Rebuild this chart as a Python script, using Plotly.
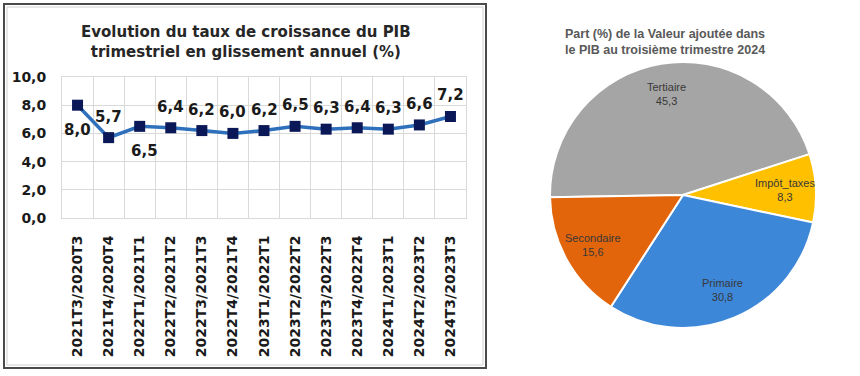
import math
import plotly.graph_objects as go

# ---- data ----
quarters = ["2021T3/2020T3", "2021T4/2020T4", "2022T1/2021T1", "2022T2/2021T2",
            "2022T3/2021T3", "2022T4/2021T4", "2023T1/2022T1", "2023T2/2022T2",
            "2023T3/2022T3", "2023T4/2022T4", "2024T1/2023T1", "2024T2/2023T2",
            "2024T3/2023T3"]
growth = [8.0, 5.7, 6.5, 6.4, 6.2, 6.0, 6.2, 6.5, 6.3, 6.4, 6.3, 6.6, 7.2]
label_below = [True, False, True, False, False, False, False, False, False, False, False, False, False]
y_ticks = [0, 2, 4, 6, 8, 10]

sectors = ["Tertiaire", "Impôt_taxes", "Primaire", "Secondaire"]
shares = [45.3, 8.3, 30.8, 15.6]
sector_colors = ["#A5A5A5", "#FFC000", "#3D87D8", "#E2650C"]

left_title = "Evolution du taux de croissance du PIB<br>trimestriel en glissement annuel (%)"
pie_title = "Part (%) de la Valeur ajoutée dans<br>le PIB au troisième trimestre 2024"

W, H = 860, 376
def px(x):
    return x / W
def py(y):
    return 1 - y / H

FONT = "DejaVu Sans"
fig = go.Figure()

xs = list(range(len(quarters)))
fig.add_trace(go.Scatter(
    x=xs, y=growth, mode="lines+markers",
    line=dict(color="#2E70BC", width=3.5),
    marker=dict(symbol="square", size=11, color="#0B1858"),
    xaxis="x", yaxis="y", showlegend=False, hoverinfo="skip",
))

for i, (v, below) in enumerate(zip(growth, label_below)):
    fig.add_annotation(
        x=i, y=v, xref="x", yref="y", text=f"{v:.1f}".replace(".", ","),
        showarrow=False, yshift=-25 if below else 21, xshift=5 if (below and i > 0) else 0,
        font=dict(family=FONT, size=15, color="#1a1a1a", weight="bold"),
    )

# pie geometry (pixels)
PIE_CX, PIE_CY, PIE_R = 683, 195, 133
PIE_ROT = 269
fig.add_trace(go.Pie(
    labels=sectors, values=shares, sort=False, direction="clockwise", rotation=PIE_ROT,
    marker=dict(colors=sector_colors, line=dict(color="white", width=2)),
    textinfo="none",
    domain=dict(x=[px(PIE_CX - PIE_R), px(PIE_CX + PIE_R)],
                y=[py(PIE_CY + PIE_R), py(PIE_CY - PIE_R)]),
    showlegend=False, hoverinfo="skip",
))

# slice labels placed along each slice's mid-angle (Excel-like placement)
total = sum(shares)
cum = 0.0
for name, val in zip(sectors, shares):
    mid = 90 - PIE_ROT - 360 * (cum + val / 2) / total
    cum += val
    rr = 0.77 * PIE_R
    lx = PIE_CX + rr * math.cos(math.radians(mid))
    ly = PIE_CY - rr * math.sin(math.radians(mid))
    fig.add_annotation(
        x=px(lx), y=py(ly), xref="paper", yref="paper",
        text=f"{name}<br>{val:.1f}".replace(".", ","), showarrow=False,
        xanchor="center", yanchor="middle", align="center",
        font=dict(family="Liberation Sans", size=11, color="#383838"),
    )

grid = "#D9D9D9"
fig.update_layout(
    width=W, height=H, margin=dict(l=0, r=0, t=0, b=0),
    paper_bgcolor="white", plot_bgcolor="white",
    separators=",.",
    xaxis=dict(
        domain=[px(62), px(466)], range=[-0.5, len(quarters) - 0.5],
        tickmode="array", tickvals=xs, ticktext=quarters, tickangle=-90,
        showgrid=False, zeroline=False, ticks="", ticklabelstandoff=11,
        showline=True, linecolor=grid, mirror=True,
        tickfont=dict(family=FONT, size=14, color="#1a1a1a", weight="bold"),
        minor=dict(tickmode="array", tickvals=[i - 0.5 for i in range(len(quarters) + 1)],
                   showgrid=True, gridcolor=grid, gridwidth=1, ticks=""),
        fixedrange=True, automargin=False,
    ),
    yaxis=dict(
        domain=[py(218), py(77)], range=[0, 10],
        tickmode="array", tickvals=y_ticks, tickformat=".1f",
        showgrid=True, gridcolor=grid, zeroline=False, ticks="",
        ticklabelstandoff=12, showline=True, linecolor=grid, mirror=True,
        tickfont=dict(family=FONT, size=14, color="#1a1a1a", weight="bold"),
        fixedrange=True, automargin=False,
    ),
)

# frame around the left chart
fig.add_shape(type="rect", xref="paper", yref="paper",
              x0=px(4), x1=px(486), y0=py(368), y1=py(4),
              line=dict(color="#4a4a4a", width=2), layer="below")
fig.add_shape(type="rect", xref="paper", yref="paper",
              x0=px(7), x1=px(483), y0=py(365), y1=py(7),
              line=dict(color="#d0d0d0", width=1), layer="below")

fig.add_annotation(
    x=px(246), y=py(42), xref="paper", yref="paper", text=left_title,
    showarrow=False, xanchor="center", yanchor="middle", align="center",
    font=dict(family=FONT, size=15, color="#262626", weight="bold"),
)
fig.add_annotation(
    x=px(563), y=py(42), xref="paper", yref="paper", text=pie_title,
    showarrow=False, xanchor="left", yanchor="middle", align="left",
    font=dict(family="Liberation Sans", size=12.5, color="#595959", weight="bold"),
)

fig.write_html("out.html", config={"displayModeBar": False},
               post_script="document.body.style.margin='0';")
